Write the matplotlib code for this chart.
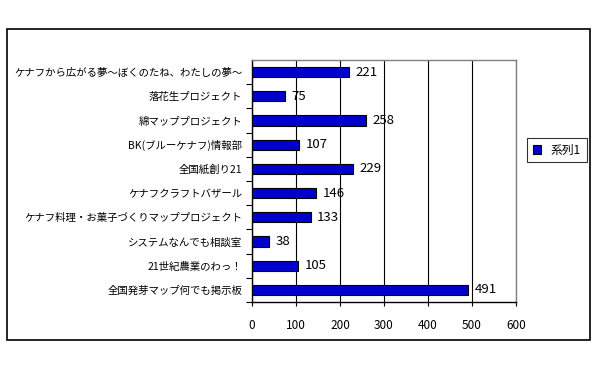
import matplotlib
matplotlib.use("Agg")
import matplotlib.pyplot as plt
from matplotlib.patches import Rectangle

plt.rcParams['font.family'] = ['Noto Sans CJK JP', 'DejaVu Sans']

# data (top to bottom as shown)
categories = [
    "ケナフから広がる夢〜ぼくのたね、わたしの夢〜",
    "落花生プロジェクト",
    "綿マッププロジェクト",
    "BK(ブルーケナフ)情報部",
    "全国紙創り21",
    "ケナフクラフトバザール",
    "ケナフ料理・お菓子づくりマッププロジェクト",
    "システムなんでも相談室",
    "21世紀農業のわっ！",
    "全国発芽マップ何でも掲示板",
]
values = [221, 75, 258, 107, 229, 146, 133, 38, 105, 491]
x_ticks = [0, 100, 200, 300, 400, 500, 600]
series_name = "系列1"

W, H = 600, 372
fig = plt.figure(figsize=(W / 100, H / 100), dpi=100)

# outer chart frame
fig.patches.append(Rectangle((7 / W, 1 - 340 / H), 583 / W, 311 / H,
                             transform=fig.transFigure, fill=False,
                             edgecolor='black', linewidth=1.2))

ax = fig.add_axes([252 / W, 1 - 302 / H, 264 / W, 242 / H])
pos = list(range(len(categories)))[::-1]
ax.barh(pos, values, height=0.42, color='#0000CC',
        edgecolor='black', linewidth=0.8, zorder=3, label=series_name)

for p, v in zip(pos, values):
    ax.text(v + 15, p, str(v), va='center', ha='left', fontsize=9.5, zorder=4)

ax.set_xlim(0, 600)
ax.set_ylim(-0.5, len(categories) - 0.5)
ax.set_xticks(x_ticks)
ax.set_xticklabels([str(t) for t in x_ticks], fontsize=8.5)
ax.set_yticks(pos)
ax.set_yticklabels(categories, fontsize=7.5)
ax.set_yticks([p + 0.5 for p in pos[1:]] + [-0.5], minor=True)
ax.tick_params(axis='y', which='major', length=0, pad=7)
ax.tick_params(axis='y', which='minor', length=4, direction='out', width=0.8)
ax.tick_params(axis='x', length=3, direction='out', pad=9, width=0.8)
ax.grid(axis='x', color='black', linewidth=0.8, zorder=1)

for side in ['top', 'right']:
    ax.spines[side].set_color('#808080')
    ax.spines[side].set_linewidth(1.0)
for side in ['left', 'bottom']:
    ax.spines[side].set_color('black')
    ax.spines[side].set_linewidth(1.0)

handles, labels = ax.get_legend_handles_labels()
leg = fig.legend(handles, labels, loc='center left',
                 bbox_to_anchor=(521 / W, 1 - 150 / H), fontsize=8.5,
                 frameon=True, fancybox=False, edgecolor='black',
                 handlelength=0.7, handleheight=0.7, borderpad=0.5,
                 handletextpad=0.8)
leg.get_frame().set_linewidth(0.8)

fig.savefig('out.png', dpi=100)
